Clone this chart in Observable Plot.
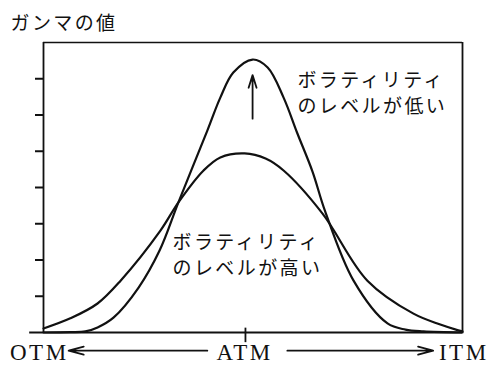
<!DOCTYPE html>
<html>
<head>
<meta charset="utf-8">
<script src="https://cdn.jsdelivr.net/npm/d3@7"></script>
<script src="https://cdn.jsdelivr.net/npm/@observablehq/plot@0.6"></script>
<style>
  html, body { margin: 0; padding: 0; background: #fff; }
  g[font-family*="Noto Sans CJK"] text { letter-spacing: 2.4px; }
  g[font-family*="Liberation Serif"] text { letter-spacing: 2.5px; }
</style>
</head>
<body>
<div id="chart"></div>
<script>
// Moneyness axis: 0 = deep OTM, 100 = deep ITM
const lowVolX = [0, 6.4, 10.0, 12.9, 16.7, 22.7, 27.7, 32.2, 39.1, 42.2, 45.3, 49.9, 53.5, 57.3, 60.6, 64.2, 67.2, 74.0, 82.1, 86.4, 90.7, 100];
const lowVolGamma = [0, 0.01, 0.03, 0.14, 0.41, 1.24, 2.26, 3.59, 5.57, 6.48, 7.17, 7.53, 7.31, 6.48, 5.49, 4.44, 3.35, 1.43, 0.25, 0.08, 0.03, 0];

const highVolX = [0, 6.4, 12.9, 18.4, 27.9, 32.2, 38.2, 42.2, 48.0, 53.0, 57.3, 66.6, 77.3, 88.3, 94.7, 99.0, 100];
const highVolGamma = [0.11, 0.39, 0.80, 1.43, 2.81, 3.59, 4.47, 4.83, 4.94, 4.80, 4.47, 3.28, 1.43, 0.52, 0.22, 0.06, 0.03];

const yTicks = [1, 2, 3, 4, 5, 6, 7];
const atm = 48.2;

const title = "ガンマの値";
const lowVolLines = ["ボラティリティ", "のレベルが低い"];
const highVolLines = ["ボラティリティ", "のレベルが高い"];
const moneynessLabels = ["OTM", "ATM", "ITM"];

const lowVol = lowVolX.map((x, i) => ({x, gamma: lowVolGamma[i]}));
const highVol = highVolX.map((x, i) => ({x, gamma: highVolGamma[i]}));

const jp = "'Noto Sans CJK JP', 'Noto Sans', sans-serif";
const serif = "'Liberation Serif', 'DejaVu Serif', serif";

const chart = Plot.plot({
  width: 495,
  height: 365,
  marginTop: 42,
  marginBottom: 33,
  marginLeft: 43,
  marginRight: 33,
  x: {domain: [0, 100], axis: null},
  y: {domain: [0, 8], axis: null},
  style: {background: "#fff", color: "#111"},
  marks: [
    // plot box (bottom edge runs a little past the left side)
    Plot.ruleY([8], {stroke: "#111", strokeWidth: 1.6}),
    Plot.ruleX([0, 100], {stroke: "#111", strokeWidth: 1.8}),
    Plot.ruleY([0], {x1: -3.3, x2: 100, stroke: "#111", strokeWidth: 2}),
    Plot.axisY(yTicks, {anchor: "left", label: null, tickSize: 8, tickFormat: () => "", strokeWidth: 2, stroke: "#111"}),
    Plot.ruleX([atm], {y1: -0.28, y2: 0.12, stroke: "#111", strokeWidth: 1.8}),

    // gamma curves
    Plot.line(highVol, {x: "x", y: "gamma", curve: "catmull-rom", stroke: "#111", strokeWidth: 2.2}),
    Plot.line(lowVol, {x: "x", y: "gamma", curve: "catmull-rom", stroke: "#111", strokeWidth: 2.2}),

    // rising peak as volatility falls
    Plot.arrow([{}], {x1: () => 49.9, x2: () => 49.9, y1: () => 5.9, y2: () => 7.1,
      stroke: "#111", strokeWidth: 1.8, headLength: 11, headAngle: 35}),

    // curve labels
    Plot.text(lowVolLines, {x: () => 60.6, y: (d, i) => [6.95, 6.23][i], text: d => d,
      textAnchor: "start", lineAnchor: "middle", fontFamily: jp, fontSize: 19, fill: "#111"}),
    Plot.text(highVolLines, {x: () => 30.8, y: (d, i) => [2.48, 1.75][i], text: d => d,
      textAnchor: "start", lineAnchor: "middle", fontFamily: jp, fontSize: 19, fill: "#111"}),

    // title
    Plot.text([title], {frameAnchor: "top-left", dx: -33, dy: -19, text: d => d,
      textAnchor: "start", lineAnchor: "middle", fontFamily: jp, fontSize: 19, fill: "#111"}),

    // moneyness axis labels and arrows
    Plot.text(moneynessLabels, {x: (d, i) => [-1.0, atm - 0.2, 100.3][i], y: () => -0.55, text: d => d,
      textAnchor: "middle", lineAnchor: "middle",
      fontFamily: serif, fontSize: 23, fill: "#111"}),
    Plot.arrow([{a: 39.1, b: 6.0}, {a: 58.2, b: 93.0}], {x1: "a", x2: "b", y1: () => -0.5, y2: () => -0.5,
      stroke: "#111", strokeWidth: 1.8, headLength: 13, headAngle: 30})
  ]
});

document.getElementById("chart").appendChild(chart);
</script>
</body>
</html>
